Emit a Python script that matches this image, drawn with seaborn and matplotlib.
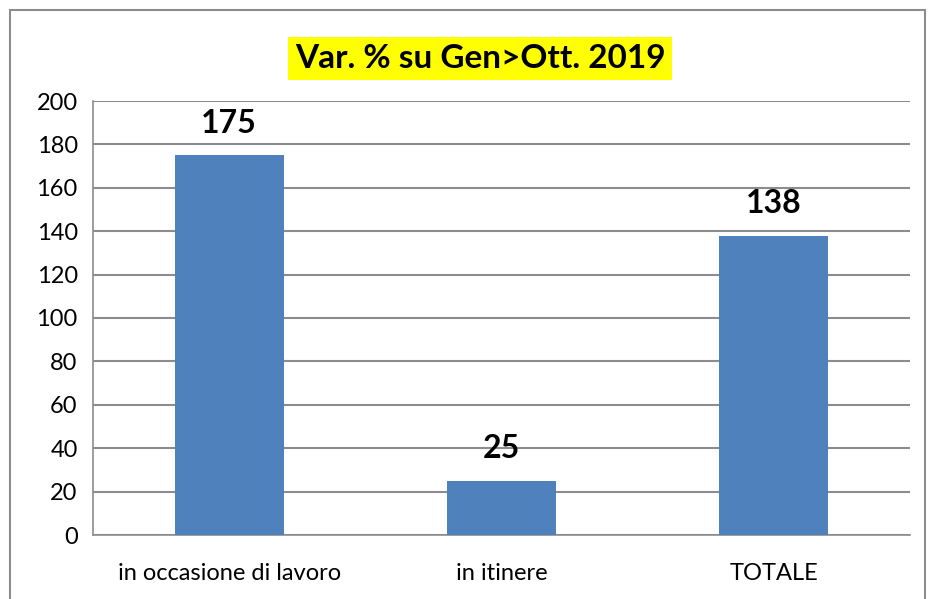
import numpy as np
import pandas as pd
import matplotlib
matplotlib.use("Agg")
import matplotlib.pyplot as plt
import seaborn as sns
from matplotlib.patches import Rectangle

# data
categories = ["in occasione di lavoro", "in itinere", "TOTALE"]
values = [175, 25, 138]
title = "Var. % su Gen>Ott. 2019"

sns.set_style("white")
plt.rcParams["font.family"] = ["Lato", "DejaVu Sans"]
plt.rcParams["text.color"] = "black"
plt.rcParams["xtick.color"] = "black"
plt.rcParams["ytick.color"] = "black"

df = pd.DataFrame({"cat": categories, "val": values})

fig = plt.figure(figsize=(9.3, 5.99), dpi=100)
ax = fig.add_axes([93 / 930, 1 - 535 / 599, 817 / 930, 434 / 599])

sns.barplot(data=df, x="cat", y="val", color="#4F81BD", saturation=1,
            width=0.4, linewidth=0, ax=ax, zorder=3)

ax.set_ylim(0, 200)
ax.set_xlim(-0.5, len(categories) - 0.5)
ax.set_yticks(np.arange(0, 201, 20))
ax.yaxis.grid(True, color="#8c8c8c", linewidth=1.5, zorder=0)
ax.set_axisbelow(True)
ax.set_xlabel("")
ax.set_ylabel("")

# category boundary ticks like the original
ax.set_xticks(np.arange(-0.5, len(categories), 1.0))
ax.set_xticklabels([])
ax.set_xticks(np.arange(len(categories)), minor=True)
ax.set_xticklabels(categories, minor=True, fontsize=17)
ax.tick_params(axis="x", which="minor", length=0, pad=20, labelcolor="black")
ax.tick_params(axis="x", which="major", length=8, width=1.2, color="#8c8c8c",
               direction="out")
ax.tick_params(axis="y", length=7, width=1.2, color="#8c8c8c", labelsize=17,
               labelcolor="black", direction="out", pad=4)

for side in ["top", "right"]:
    ax.spines[side].set_visible(False)
for side in ["left", "bottom"]:
    ax.spines[side].set_color("#8c8c8c")
    ax.spines[side].set_linewidth(1.2)

for i, v in enumerate(values):
    ax.text(i, v + 8, str(v), ha="center", va="bottom", fontsize=23,
            fontweight="bold", color="black")

fig.text(480 / 930, 1 - 58 / 599, title, ha="center", va="center",
         fontsize=24, fontweight="bold", color="black",
         bbox=dict(facecolor="#FFFF00", edgecolor="none", pad=5))

# outer chart border
fig.patches.append(Rectangle((10 / 930, -0.05), 915 / 930, 1.05 - 10 / 599,
                             transform=fig.transFigure, fill=False,
                             edgecolor="#8c8c8c", linewidth=1.5))

fig.savefig("out.png", dpi=100)
